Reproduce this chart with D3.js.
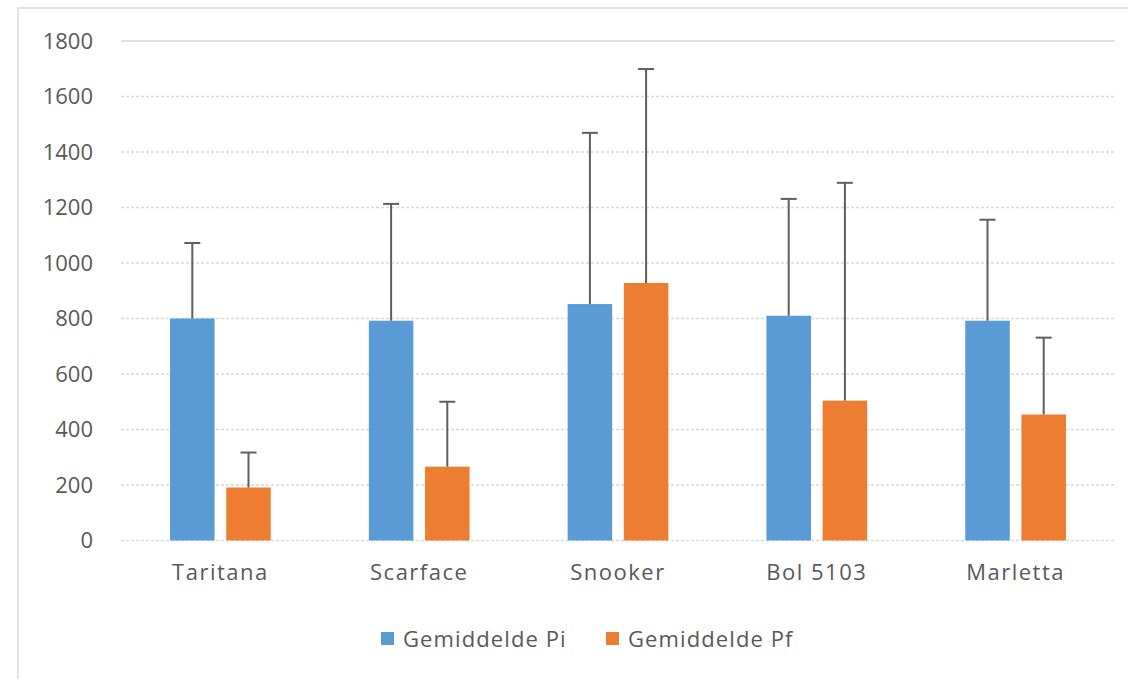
<!DOCTYPE html>
<html>
<head>
<meta charset="utf-8">
<script src="https://cdn.jsdelivr.net/npm/d3@7"></script>
<style>
  html, body { margin: 0; padding: 0; background: #fff; }
  svg { display: block; }
  text { font-family: "Open Sans", sans-serif; fill: #595959; }
</style>
</head>
<body>
<svg id="chart" width="1128" height="679"></svg>
<script>
const categories = ["Taritana", "Scarface", "Snooker", "Bol 5103", "Marletta"];
const seriesNames = ["Gemiddelde Pi", "Gemiddelde Pf"];
const piValues = [800, 792, 852, 810, 792];
const pfValues = [191, 266, 928, 504, 454];
const piErrTop = [1072, 1213, 1469, 1231, 1156];
const pfErrTop = [317, 500, 1699, 1289, 731];
const yTicks = [0, 200, 400, 600, 800, 1000, 1200, 1400, 1600, 1800];
const colors = ["#5B9BD5", "#ED7D31"];

(function () {
const svg = d3.select("#chart");

// outer chart border
svg.append("rect")
  .attr("x", 18).attr("y", 8)
  .attr("width", 1140).attr("height", 700)
  .attr("fill", "#fff").attr("stroke", "#d9d9d9").attr("stroke-width", 1.5);

const plotL = 121, plotR = 1115, plotT = 41, plotB = 540.5;

const y = d3.scaleLinear().domain([0, 1800]).range([plotB, plotT]);
const x0 = d3.scaleBand().domain(categories).range([plotL, plotR]).paddingInner(0).paddingOuter(0);
const groupW = 100.7;
const x1 = d3.scaleBand().domain(seriesNames)
  .range([(x0.bandwidth() - groupW) / 2, (x0.bandwidth() + groupW) / 2])
  .paddingInner(0.208).paddingOuter(0);

// gridlines
const grid = svg.append("g");
yTicks.forEach(t => {
  grid.append("line")
    .attr("x1", plotL).attr("x2", plotR)
    .attr("y1", y(t)).attr("y2", y(t))
    .attr("stroke", "#d9d9d9")
    .attr("stroke-width", 1.3)
    .attr("stroke-dasharray", t === 1800 ? null : "3,2");
});

// y axis labels via d3 axis
const yAxis = d3.axisLeft(y).tickValues(yTicks).tickSize(0).tickPadding(0).tickFormat(d3.format("d"));
const yg = svg.append("g").attr("transform", `translate(93,0)`).call(yAxis);
yg.select(".domain").remove();
yg.selectAll("text").style("font-size", "22px").attr("fill", "#595959")
  .style("font-family", "'Open Sans', sans-serif");

// x axis labels
const xAxis = d3.axisBottom(x0).tickSize(0).tickPadding(0);
const xg = svg.append("g").attr("transform", `translate(0,${plotB + 24})`).call(xAxis);
xg.select(".domain").remove();
xg.selectAll("text").style("font-size", "22px").attr("fill", "#595959")
  .style("letter-spacing", "1.5px")
  .style("font-family", "'Open Sans', sans-serif");

// bars
const data = categories.map((c, i) => ({
  cat: c,
  vals: [
    { s: seriesNames[0], v: piValues[i], e: piErrTop[i], c: colors[0] },
    { s: seriesNames[1], v: pfValues[i], e: pfErrTop[i], c: colors[1] }
  ]
}));

const groups = svg.append("g").selectAll("g").data(data).join("g")
  .attr("transform", d => `translate(${x0(d.cat)},0)`);

groups.selectAll("rect").data(d => d.vals).join("rect")
  .attr("x", d => x1(d.s))
  .attr("width", x1.bandwidth())
  .attr("y", d => y(d.v))
  .attr("height", d => y(0) - y(d.v))
  .attr("fill", d => d.c);

// error bars (plus only)
const eb = groups.selectAll("g.err").data(d => d.vals).join("g").attr("class", "err");
eb.append("line")
  .attr("x1", d => x1(d.s) + x1.bandwidth() / 2)
  .attr("x2", d => x1(d.s) + x1.bandwidth() / 2)
  .attr("y1", d => y(d.v))
  .attr("y2", d => y(d.e))
  .attr("stroke", "#5f5f5f").attr("stroke-width", 2);
eb.append("line")
  .attr("x1", d => x1(d.s) + x1.bandwidth() / 2 - 8)
  .attr("x2", d => x1(d.s) + x1.bandwidth() / 2 + 8)
  .attr("y1", d => y(d.e))
  .attr("y2", d => y(d.e))
  .attr("stroke", "#5f5f5f").attr("stroke-width", 2);

// legend
const legendX = [381, 606];
const legend = svg.append("g");
seriesNames.forEach((s, i) => {
  legend.append("rect")
    .attr("x", legendX[i]).attr("y", 632)
    .attr("width", 13).attr("height", 13)
    .attr("fill", colors[i]);
  legend.append("text")
    .attr("x", legendX[i] + 22).attr("y", 639)
    .attr("dy", "0.35em")
    .style("font-size", "22px")
    .style("letter-spacing", "1.1px")
    .text(s);
});
})();
</script>
</body>
</html>
